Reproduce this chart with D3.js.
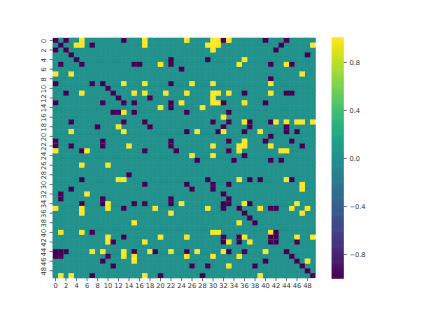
<!DOCTYPE html>
<html>
<head>
<meta charset="utf-8">
<script src="https://cdn.jsdelivr.net/npm/d3@7"></script>
<style>
html, body { margin: 0; padding: 0; background: #fff; }
svg { display: block; }
text { font-family: "DejaVu Sans", sans-serif; font-size: 6.7px; fill: #333; }
.tick line { stroke: #333; stroke-width: 0.7; }
</style>
</head>
<body>
<script>
//column numbers holding +1 in each row, row 0 first
var posByRow = [
    [5,17,25,30,31,33], [4,5,17,29,30,31,49], [30], [], [36],
    [20,35,44], [], [0,3,47], [], [13,17,26,30,41],
    [], [5,15,17,21,25,30,31,33,41], [30], [24,30,31,36], [20,28],
    [13], [32], [36,42,44,46,47,49], [12], [3,13,27,32,39],
    [], [36], [14,30,35,36,41], [0,6,35,43,44], [26,30],
    [], [5,10], [], [], [12,13,35,44],
    [47], [47], [6], [], [10,24,36,46],
    [0,5,10,19,29,39,45,48], [5,22,47], [], [15,35], [],
    [1,5,30,31,41], [10,20,25,36,46,49], [10,17,33,37], [], [7,9,13,18,22,27,32,40],
    [13,15,25,30,35], [15,48], [33], [], [1,3,17,39]
];

//column numbers holding -1 in each row
var negByRow = [
    [0,2,13,32,40,44], [1,7,43], [0,2,42], [3,48], [4,22,29],
    [1,5,15,16,22,41,45], [24], [], [41], [0,7,9,22],
    [10], [2,11,36,44,45], [12,18], [0,9,13,15,22,32,40], [22],
    [11,12,15,25,33], [], [3,13,17,30,33,37,41], [8,18,32,37,44], [25,31,36,44,46],
    [41], [0,9,22,33,40,45], [0,3,9,22,47], [5,17,23,33], [36],
    [27,34,41,43], [], [], [14], [5,29,37,39,45],
    [17,25,30,33], [3,26,30], [1,32], [1,9,22,33], [5,9,15,17,22,32,33,37],
    [13,32,35,41,42], [36], [37], [38], [],
    [7,42], [13,32,35,41,42], [11,32,35,41,42,46], [], [0,1,2,15,19,25,33,36,44],
    [0,1,10,45], [9,40,46], [11,26,29,38,47], [48], [7,20,28,49]
];

var colorTicks = [-0.8, -0.4, 0, 0.4, 0.8];

var width = 423,
    height = 317;

var svg = d3.select("body")
    .append("svg")
    .attr("width", width)
    .attr("height", height);

var indices = d3.range(50);

var x = d3.scaleBand().domain(indices).range([52.9, 315.4]);
var y = d3.scaleBand().domain(indices).range([38, 278]);
var color = d3.scaleSequential(d3.interpolateViridis).domain([-1, 1]);

//build the full matrix from the two lists
var cells = [];
indices.forEach(function(r) {
    indices.forEach(function(c) {
        var v = 0;
        if (posByRow[r].indexOf(c) >= 0) v = 1;
        if (negByRow[r].indexOf(c) >= 0) v = -1;
        cells.push({ row: r, col: c, value: v });
    });
});

//zero cells first so the coloured ones sit on top of the seam cover
cells.sort(function(a, b) { return Math.abs(a.value) - Math.abs(b.value); });

svg.append("g")
    .selectAll("rect")
    .data(cells)
    .enter()
    .append("rect")
    .attr("x", function(d) { return x(d.col); })
    .attr("y", function(d) { return y(d.row); })
    .attr("width", x.bandwidth())
    .attr("height", y.bandwidth())
    .attr("fill", function(d) { return color(d.value); })
    .attr("stroke", function(d) { return color(d.value); })
    .attr("stroke-width", function(d) { return d.value === 0 ? 0.6 : 0.2; });

var evens = indices.filter(function(i) { return i % 2 === 0; });

var xAxis = svg.append("g")
    .attr("transform", "translate(0,278)")
    .call(d3.axisBottom(x).tickValues(evens).tickSize(3.2).tickPadding(2.5));
xAxis.select(".domain").remove();

var yAxis = svg.append("g")
    .attr("transform", "translate(52.9,0)")
    .call(d3.axisLeft(y).tickValues(evens).tickSize(3.2).tickPadding(3));
yAxis.select(".domain").remove();
yAxis.selectAll("text")
    .attr("text-anchor", "middle")
    .attr("dy", 0)
    .attr("x", 0)
    .attr("transform", "translate(-8.5,0.5) rotate(-90)")
    .attr("dominant-baseline", "middle");

//colorbar
var barY = d3.scaleLinear().domain([-1, 1]).range([278, 38]);
var steps = d3.range(256).map(function(i) { return -1 + 2 * i / 255; });

svg.append("g")
    .selectAll("rect")
    .data(steps)
    .enter()
    .append("rect")
    .attr("x", 331.7)
    .attr("width", 12)
    .attr("y", function(d) { return barY(d) - 0.8; })
    .attr("height", 1.6)
    .attr("fill", function(d) { return color(d); });

var barAxis = svg.append("g")
    .attr("transform", "translate(343.7,0)")
    .call(d3.axisRight(barY).tickValues(colorTicks).tickSize(3.2).tickPadding(2.5)
        .tickFormat(function(d) { return d3.format(".1f")(d); }));
barAxis.select(".domain").remove();
</script>
</body>
</html>
